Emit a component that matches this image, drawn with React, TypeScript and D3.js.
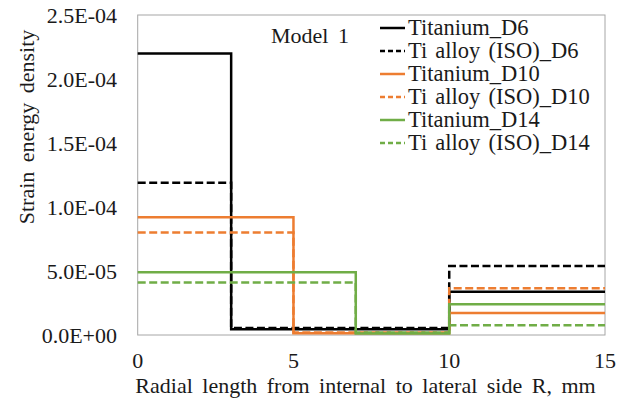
import React from "react";
import * as d3 from "d3";

const W = 635;
const H = 405;

const xTicks = [0, 5, 10, 15];
const yTicks = [0, 5e-5, 1e-4, 1.5e-4, 2e-4, 2.5e-4];
const yTickLabels = ["0.0E+00", "5.0E-05", "1.0E-04", "1.5E-04", "2.0E-04", "2.5E-04"];

const seriesNames = [
  "Titanium_D6",
  "Ti alloy (ISO)_D6",
  "Titanium_D10",
  "Ti alloy (ISO)_D10",
  "Titanium_D14",
  "Ti alloy (ISO)_D14",
];
const seriesBreak = [3, 3, 5, 5, 7, 7];
const innerVals = [2.2e-4, 1.19e-4, 9.2e-5, 8.0e-5, 4.9e-5, 4.1e-5];
const midVals = [4.5e-6, 5.5e-6, 1.3e-6, 2.0e-6, 1.2e-6, 2.0e-6];
const outerVals = [3.38e-5, 5.39e-5, 1.72e-5, 3.65e-5, 2.4e-5, 7.7e-6];
const seriesColors = ["#000000", "#000000", "#ED7D31", "#ED7D31", "#70AD47", "#70AD47"];
const seriesDashed = [false, true, false, true, false, true];

const FONT = "Liberation Serif, DejaVu Serif, serif";

export default function App() {
  const margin = { left: 137.7, right: W - 605, top: 15, bottom: H - 335 };
  const x = d3.scaleLinear().domain([0, 15]).range([margin.left, W - margin.right]);
  const y = d3.scaleLinear().domain([0, 2.5e-4]).range([H - margin.bottom, margin.top]);

  const line = d3
    .line<[number, number]>()
    .x((d) => x(d[0]))
    .y((d) => y(d[1]))
    .curve(d3.curveStepAfter);

  const paths = seriesNames.map((name, i) => {
    const pts: [number, number][] = [
      [0, innerVals[i]],
      [seriesBreak[i], midVals[i]],
      [10, outerVals[i]],
      [15, outerVals[i]],
    ];
    return { name, d: line(pts) || "", color: seriesColors[i], dashed: seriesDashed[i] };
  });

  const legendX = 380;
  const legendY0 = 28;
  const legendStep = 23;
  const txt = { fontFamily: FONT, fontSize: 22, fill: "#1a1a1a" } as React.CSSProperties;
  const title = { ...txt, wordSpacing: 4 } as React.CSSProperties;
  const leg = { ...txt, fontSize: 22.5, wordSpacing: 2.5 } as React.CSSProperties;

  return (
    <div style={{ position: "fixed", left: 0, top: 0 }}>
      <svg width={W} height={H} style={{ display: "block", background: "#fff" }}>
        <rect
          x={x(0)}
          y={y(2.5e-4)}
          width={x(15) - x(0)}
          height={y(0) - y(2.5e-4)}
          fill="none"
          stroke="#a6a6a6"
          strokeWidth={1}
        />
        {paths.map((p) => (
          <path
            key={p.name}
            d={p.d}
            fill="none"
            stroke={p.color}
            strokeWidth={2.5}
            strokeDasharray={p.dashed ? "8,3.5" : undefined}
          />
        ))}
        {yTicks.map((t, i) => (
          <text key={"y" + i} x={117} y={y(t)} dy="0.35em" textAnchor="end" style={txt}>
            {yTickLabels[i]}
          </text>
        ))}
        {xTicks.map((t) => (
          <text key={"x" + t} x={x(t)} y={368} textAnchor="middle" style={txt}>
            {t}
          </text>
        ))}
        <text x={365.5} y={393} textAnchor="middle" style={title}>
          Radial length from internal to lateral side R, mm
        </text>
        <text transform={`translate(34,127) rotate(-90)`} textAnchor="middle" style={title}>
          Strain energy density
        </text>
        <text x={271} y={43} style={title}>
          Model 1
        </text>
        {paths.map((p, i) => (
          <g key={"lg" + i} transform={`translate(${legendX},${legendY0 + i * legendStep})`}>
            <line
              x1={0}
              x2={25}
              y1={0}
              y2={0}
              stroke={p.color}
              strokeWidth={2.5}
              strokeDasharray={p.dashed ? "5,3" : undefined}
            />
            <text x={28} y={0} dy="0.33em" style={leg}>
              {p.name}
            </text>
          </g>
        ))}
      </svg>
    </div>
  );
}
